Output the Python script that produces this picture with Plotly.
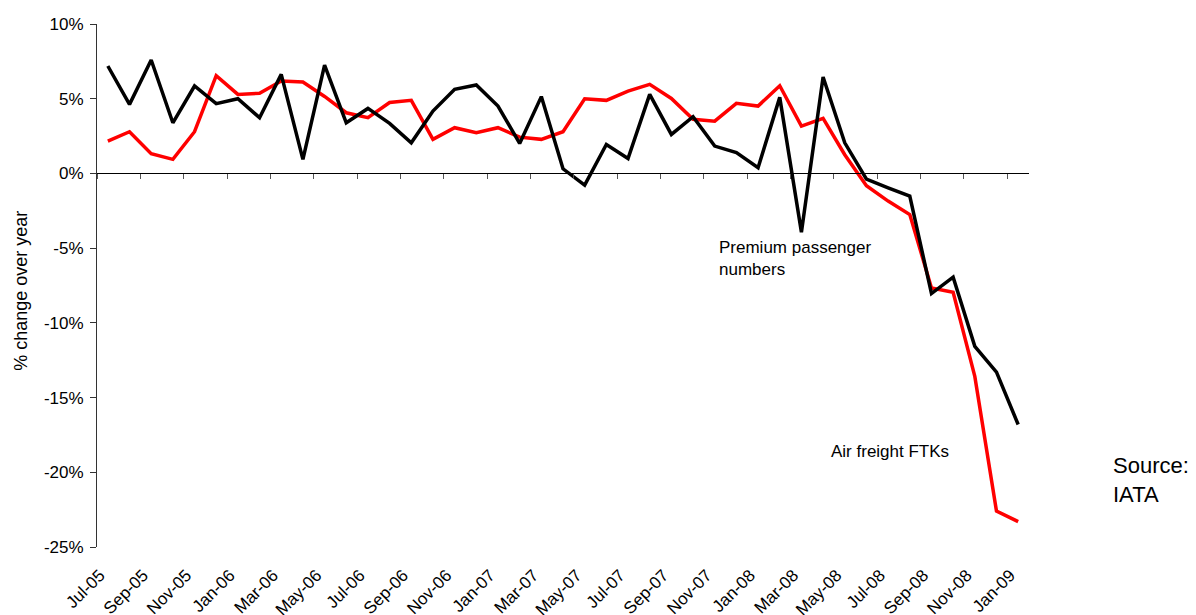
import plotly.graph_objects as go

months = ["Jul-05","Aug-05","Sep-05","Oct-05","Nov-05","Dec-05",
          "Jan-06","Feb-06","Mar-06","Apr-06","May-06","Jun-06",
          "Jul-06","Aug-06","Sep-06","Oct-06","Nov-06","Dec-06",
          "Jan-07","Feb-07","Mar-07","Apr-07","May-07","Jun-07",
          "Jul-07","Aug-07","Sep-07","Oct-07","Nov-07","Dec-07",
          "Jan-08","Feb-08","Mar-08","Apr-08","May-08","Jun-08",
          "Jul-08","Aug-08","Sep-08","Oct-08","Nov-08","Dec-08",
          "Jan-09"]

premium_passengers = [7.19, 4.62, 7.59, 3.39, 5.85, 4.67, 5.00, 3.73, 6.63, 0.94,
                      7.25, 3.39, 4.35, 3.35, 2.05, 4.17, 5.63, 5.92, 4.51, 2.01,
                      5.14, 0.31, -0.78, 1.94, 1.00, 5.29, 2.61, 3.80, 1.83, 1.39,
                      0.38, 5.09, -3.93, 6.45, 2.05, -0.38, -0.96, -1.52, -8.04, -6.94,
                      -11.57, -13.30, -16.80]

air_freight = [2.16, 2.79, 1.32, 0.94, 2.79, 6.54, 5.29, 5.36, 6.18, 6.12,
               5.15, 4.06, 3.73, 4.75, 4.89, 2.28, 3.06, 2.72, 3.06, 2.43,
               2.28, 2.79, 5.00, 4.89, 5.51, 5.96, 5.02, 3.62, 3.50, 4.69,
               4.51, 5.87, 3.17, 3.68, 1.25, -0.82, -1.85, -2.75, -7.66, -7.95,
               -13.58, -22.60, -23.30]

y_ticks = [-25, -20, -15, -10, -5, 0, 5, 10]

FONT = "Liberation Sans, Arial, sans-serif"
idx = list(range(len(months)))
y_min, y_max = -25, 10

fig = go.Figure()
fig.add_trace(go.Scatter(x=idx, y=air_freight, mode="lines", name="Air freight FTKs",
                         line=dict(color="#ff0000", width=3.5), showlegend=False))
fig.add_trace(go.Scatter(x=idx, y=premium_passengers, mode="lines", name="Premium passenger numbers",
                         line=dict(color="#000000", width=3.5), showlegend=False))
# helper trace so the zero-line axis is drawn
fig.add_trace(go.Scatter(x=[idx[0]], y=[0], xaxis="x2", mode="markers",
                         marker=dict(opacity=0), hoverinfo="skip", showlegend=False))

fig.update_layout(
    width=1196, height=615,
    margin=dict(l=89, r=175, t=16, b=76),
    paper_bgcolor="white", plot_bgcolor="white",
    font=dict(family=FONT, size=16, color="#000000"),
    xaxis=dict(range=[-0.5, len(months) - 0.5], tickmode="array",
               tickvals=idx[::2], ticktext=months[::2], tickangle=-45,
               showline=False, showgrid=False, zeroline=False, automargin=False,
               ticks="", ticklabelstandoff=14, ticklabelshift=-8,
               tickfont=dict(size=17)),
    xaxis2=dict(overlaying="x", anchor="free", position=(0 - y_min) / (y_max - y_min),
                range=[-0.5, len(months) - 0.5], tick0=-0.5, dtick=2,
                showticklabels=False, showline=True, linecolor="#000000", linewidth=1,
                ticks="outside", ticklen=5, tickcolor="#555555", tickwidth=1,
                showgrid=False, zeroline=False, automargin=False),
    yaxis=dict(range=[y_min, y_max], tickmode="array", tickvals=y_ticks,
               ticktext=[f"{v}%" for v in y_ticks], automargin=False,
               showline=True, linecolor="#333333", linewidth=1,
               ticks="outside", ticklen=6, tickcolor="#333333", ticklabelstandoff=3,
               showgrid=False, zeroline=False, tickfont=dict(size=17)),
    annotations=[
        dict(text="% change over year", textangle=-90, xref="paper", yref="paper",
             x=-0.0815, y=0.49, xanchor="center", yanchor="middle",
             showarrow=False, font=dict(size=18)),
        dict(text="Premium passenger<br>numbers", xref="x", yref="y",
             x=28.1, y=-5.66, xanchor="left", yanchor="middle", align="left",
             showarrow=False, font=dict(size=17)),
        dict(text="Air freight FTKs", xref="x", yref="y",
             x=33.25, y=-18.6, xanchor="left", yanchor="middle", align="left",
             showarrow=False, font=dict(size=17)),
        dict(text="Source:<br>IATA", xref="paper", yref="y",
             x=1.088, y=-20.53, xanchor="left", yanchor="middle", align="left",
             showarrow=False, font=dict(size=22)),
    ],
)

fig.write_html("out.html")
